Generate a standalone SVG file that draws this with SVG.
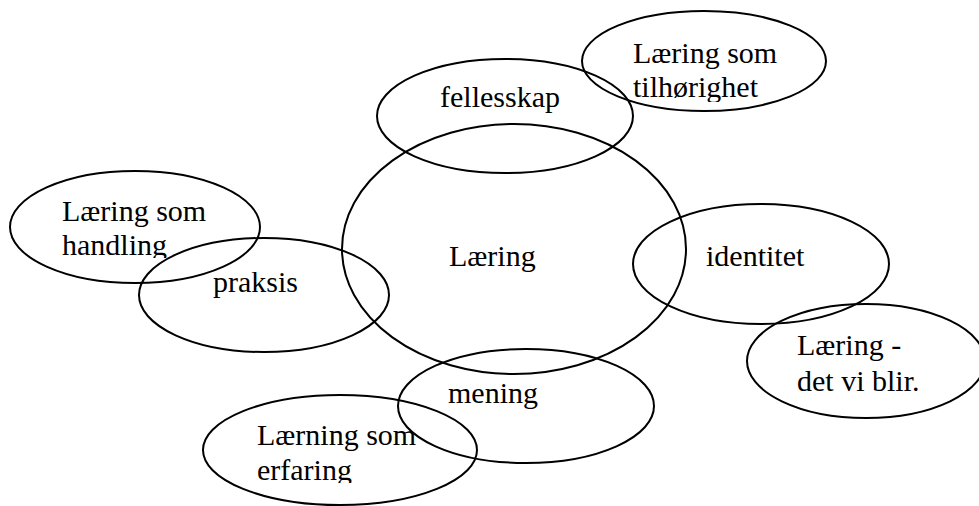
<svg xmlns="http://www.w3.org/2000/svg" width="979" height="506" viewBox="0 0 979 506">
<style>
.e{fill:none;stroke:#000;stroke-width:2}
.t{font-family:"Liberation Serif","Times New Roman",serif;font-size:30px;fill:#000}
</style>
<defs>
<clipPath id="c1"><rect x="0" y="0" width="979" height="258"/></clipPath>
<clipPath id="c2"><rect x="0" y="0" width="979" height="483"/></clipPath>
<clipPath id="c3"><rect x="0" y="0" width="979" height="102"/></clipPath>
</defs>
<rect width="979" height="506" fill="#fff"/>
<g id="laering"><ellipse class="e" cx="514" cy="249" rx="172" ry="125"/><text class="t" x="449" y="266">Læring</text></g>
<g id="fellesskap"><ellipse class="e" cx="505" cy="116" rx="128" ry="57"/><text class="t" x="440" y="107">fellesskap</text></g>
<g id="tilhorighet"><ellipse class="e" cx="704" cy="61" rx="122" ry="50"/><text class="t" x="633" y="63">Læring som</text><text class="t" x="633" y="97" clip-path="url(#c3)">tilhørighet</text></g>
<g id="handling"><ellipse class="e" cx="135" cy="227" rx="125" ry="56"/><text class="t" x="62" y="221">Læring som</text><text class="t" x="62" y="255" clip-path="url(#c1)">handling</text></g>
<g id="praksis"><ellipse class="e" cx="264" cy="295" rx="125" ry="57"/><text class="t" x="213" y="292">praksis</text></g>
<g id="identitet"><ellipse class="e" cx="761" cy="264" rx="128" ry="60"/><text class="t" x="706" y="266">identitet</text></g>
<g id="detviblir"><ellipse class="e" cx="866" cy="361" rx="119" ry="57"/><text class="t" x="797" y="355">Læring -</text><text class="t" x="797" y="391">det vi blir.</text></g>
<g id="mening"><ellipse class="e" cx="526" cy="406" rx="128" ry="57"/><text class="t" x="448" y="403">mening</text></g>
<g id="erfaring"><ellipse class="e" cx="340" cy="450" rx="137" ry="55"/><text class="t" x="257" y="445">Lærning som</text><text class="t" x="257" y="480" clip-path="url(#c2)">erfaring</text></g>
<g id="connectors"></g>
</svg>
